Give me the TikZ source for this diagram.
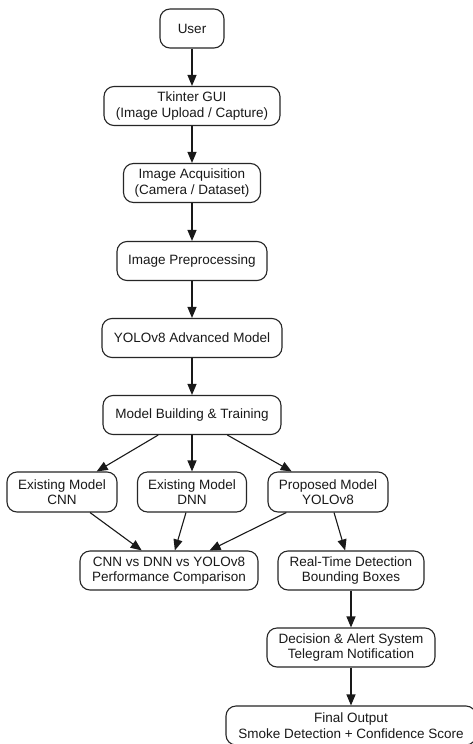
\documentclass[tikz,border=0pt]{standalone}
\usepackage{fontspec}
\setmainfont{Liberation Sans}
\usetikzlibrary{arrows.meta}
\begin{document}
\begin{tikzpicture}[x=1pt,y=-1pt,
  box/.style={draw=black!85, line width=1.1pt, rounded corners=10pt, align=center,
    inner sep=0pt, minimum height=39pt, font=\fontsize{13.5}{15.5}\selectfont, text=black!90},
  arr/.style={-{Triangle[length=11pt,width=9pt]}, line width=1.1pt, draw=black!90}]
\fill[white] (0,0) rectangle (472,744);
\useasboundingbox (0,0) rectangle (472,744);
\node[box, minimum width=64pt] (user) at (192,28.5) {User};
\node[box, minimum width=176pt] (gui) at (192,106) {Tkinter GUI\\(Image Upload / Capture)};
\node[box, minimum width=137pt] (acq) at (192,183) {Image Acquisition\\(Camera / Dataset)};
\node[box, minimum width=150pt] (pre) at (192,261) {Image Preprocessing};
\node[box, minimum width=180pt] (yolo) at (192,338) {YOLOv8 Advanced Model};
\node[box, minimum width=178pt] (mb) at (192,415) {Model Building \& Training};
\node[box, minimum width=110pt, minimum height=40pt] (cnn) at (62,492) {Existing Model\\CNN};
\node[box, minimum width=109pt, minimum height=40pt] (dnn) at (192,492) {Existing Model\\DNN};
\node[box, minimum width=120pt, minimum height=40pt] (prop) at (328,492) {Proposed Model\\YOLOv8};
\node[box, minimum width=178pt] (comp) at (169,570.5) {CNN vs DNN vs YOLOv8\\Performance Comparison};
\node[box, minimum width=146pt] (rt) at (351,570.5) {Real-Time Detection\\Bounding Boxes};
\node[box, minimum width=168pt] (dec) at (351,647.5) {Decision \& Alert System\\Telegram Notification};
\node[box, minimum width=250pt] (fin) at (351,725.5) {Final Output\\Smoke Detection + Confidence Score};
\draw[arr] (user) -- (gui);
\draw[arr] (gui) -- (acq);
\draw[arr] (acq) -- (pre);
\draw[arr] (pre) -- (yolo);
\draw[arr] (yolo) -- (mb);
\draw[arr] (mb) -- (cnn);
\draw[arr] (mb) -- (dnn);
\draw[arr] (mb) -- (prop);
\draw[arr] (cnn) -- (comp);
\draw[arr] (dnn) -- (comp);
\draw[arr] (prop) -- (comp);
\draw[arr] (prop) -- (rt);
\draw[arr] (rt) -- (dec);
\draw[arr] (dec) -- (fin);
\end{tikzpicture}
\end{document}
